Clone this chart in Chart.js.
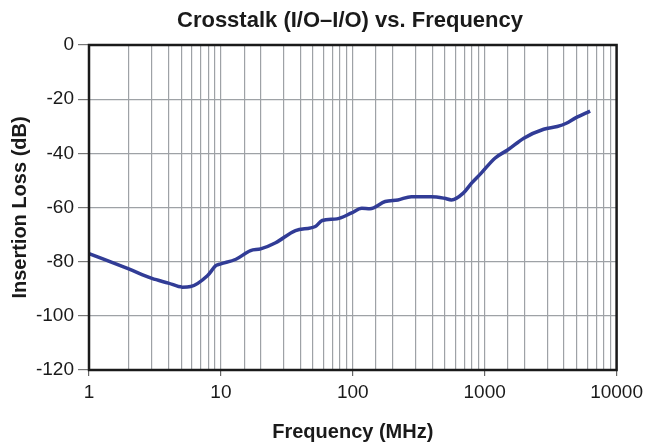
<!DOCTYPE html>
<html>
<head>
<meta charset="utf-8">
<script src="https://cdn.jsdelivr.net/npm/chart.js@4.4.1/dist/chart.umd.min.js"></script>
<style>
  html, body { margin: 0; padding: 0; background: #ffffff; }
  #wrap { width: 648px; height: 444px; }
</style>
</head>
<body>
<div id="wrap"><canvas id="c" width="648" height="444"></canvas></div>
<script>
const chartTitle = 'Crosstalk (I/O\u2013I/O) vs. Frequency';
const xAxisTitle = 'Frequency (MHz)';
const yAxisTitle = 'Insertion Loss (dB)';
const xLabelTicks = [1, 10, 100, 1000, 10000];
const yTicks = [0, -20, -40, -60, -80, -100, -120];

const freqs = [1, 2, 3, 4, 5.1, 5.9, 7.9, 9.2, 10, 13, 16.8, 20, 26, 36.8, 52, 58.6, 76, 98, 117, 135, 176, 220, 278, 395, 496, 560, 688, 795, 941, 1195, 1500, 1980, 2800, 3550, 4160, 4850, 6300];
const loss  = [-77, -82.7, -86.2, -87.9, -89.4, -89.2, -85.2, -81.4, -80.8, -79.1, -75.9, -75.3, -73, -68.5, -67, -64.8, -64.2, -62, -60.3, -60.5, -57.8, -57.2, -56, -56, -56.6, -57.2, -54.7, -51, -47.3, -41.8, -38.7, -34.4, -31.1, -30.1, -28.9, -27, -24.4];

const FONT = '"Liberation Sans", Arial, Helvetica, sans-serif';
const GRID = '#9ea2a6';

const points = freqs.map((f, i) => ({ x: f, y: loss[i] }));

const framePlugin = {
  id: 'frame',
  afterDatasetsDraw(chart) {
    const { ctx, chartArea: a } = chart;
    ctx.save();
    ctx.strokeStyle = '#1a1a1a';
    ctx.lineWidth = 2.5;
    ctx.strokeRect(a.left, a.top, a.right - a.left, a.bottom - a.top);
    ctx.restore();
  }
};

const titlePlugin = {
  id: 'customTitle',
  afterDraw(chart) {
    const { ctx } = chart;
    ctx.save();
    ctx.font = 'bold 22px ' + FONT;
    ctx.fillStyle = '#1a1a1a';
    ctx.textAlign = 'center';
    ctx.textBaseline = 'middle';
    ctx.fillText(chartTitle, 350, 21);
    ctx.restore();
  }
};

new Chart(document.getElementById('c'), {
  type: 'line',
  data: {
    datasets: [{
      data: points,
      borderColor: '#313c96',
      borderWidth: 3.5,
      pointRadius: 0,
      fill: false,
      cubicInterpolationMode: 'monotone'
    }]
  },
  options: {
    responsive: false,
    animation: false,
    layout: { padding: { top: 45, right: 29, left: 0, bottom: 0 } },
    plugins: { legend: { display: false }, tooltip: { enabled: false }, title: { display: false } },
    scales: {
      x: {
        type: 'logarithmic',
        min: 1,
        max: 10000,
        afterFit(s) { s.height = 74; },
        border: { display: false },
        grid: {
          color: GRID,
          lineWidth: 1.2,
          tickLength: 6,
          tickColor: (c) => xLabelTicks.includes(c.tick && c.tick.value) ? '#666' : 'rgba(0,0,0,0)'
        },
        ticks: {
          autoSkip: false,
          maxRotation: 0,
          minRotation: 0,
          padding: 5,
          color: '#1a1a1a',
          font: { family: FONT, size: 19 },
          callback: (v) => xLabelTicks.includes(v) ? String(v) : ''
        },
        title: {
          display: true,
          text: xAxisTitle,
          color: '#1a1a1a',
          font: { family: FONT, size: 20, weight: 'bold' },
          padding: { top: 0, bottom: 0 }
        }
      },
      y: {
        min: -120,
        max: 0,
        afterFit(s) { s.width = 89; },
        afterBuildTicks(s) { s.ticks = yTicks.map(v => ({ value: v })); },
        border: { display: false },
        grid: {
          color: GRID,
          lineWidth: 1.2,
          tickLength: 11,
          tickColor: '#777'
        },
        ticks: {
          padding: 4,
          color: '#1a1a1a',
          font: { family: FONT, size: 19 },
          callback: (v) => String(v)
        },
        title: {
          display: true,
          text: yAxisTitle,
          color: '#1a1a1a',
          font: { family: FONT, size: 20, weight: 'bold' },
          padding: { top: 8, bottom: 0 }
        }
      }
    }
  },
  plugins: [framePlugin, titlePlugin]
});
</script>
</body>
</html>
